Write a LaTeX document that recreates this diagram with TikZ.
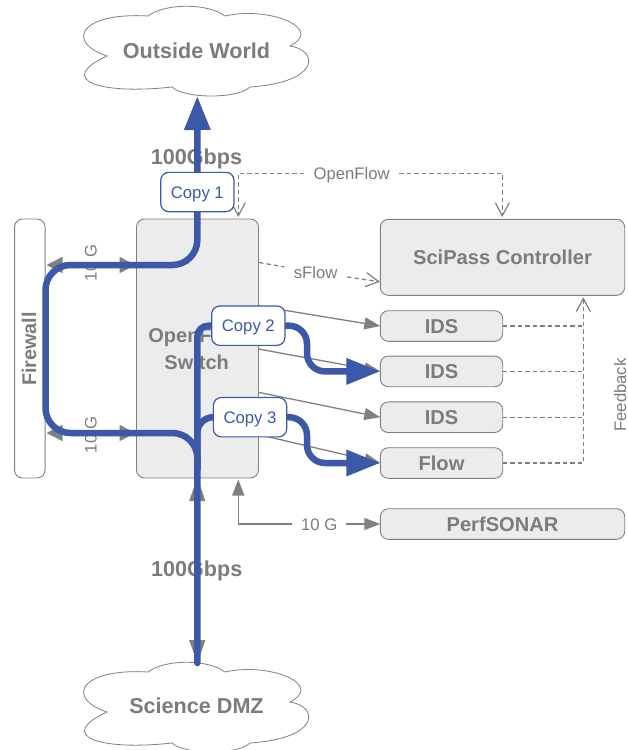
\documentclass[tikz,border=0pt]{standalone}
\usepackage{fontspec}
\setmainfont{Liberation Sans}
\usetikzlibrary{arrows.meta}
\pgfdeclarelayer{front}
\pgfsetlayers{main,front}
\definecolor{txtgray}{HTML}{7C7C7C}
\definecolor{linegray}{HTML}{808080}
\definecolor{boxfill}{HTML}{ECECEC}
\definecolor{flowblue}{HTML}{3B59A8}
\newcommand{\cloudshape}{(107,56) .. controls (65,42) and (80,12) .. (148,16)
  .. controls (165,3) and (208,3) .. (225,16)
  .. controls (268,6) and (325,28) .. (290,46)
  .. controls (318,50) and (322,82) .. (250,87)
  .. controls (238,99) and (185,99) .. (172,87)
  .. controls (100,95) and (55,80) .. (107,56) -- cycle}
\tikzset{
  x=1pt,y=-1pt,
  boxnode/.style={draw=linegray,line width=0.9pt,fill=boxfill,rounded corners=8pt,inner sep=0pt,outer sep=0pt,text=txtgray,font=\fontsize{20.1}{26.7}\selectfont\bfseries,align=center,text height=14.5pt,text depth=0pt},
  copybox/.style={draw=flowblue,line width=1.2pt,fill=white,rounded corners=8pt,inner sep=0pt,outer sep=0pt,minimum width=73.3pt,minimum height=39.3pt,text=flowblue,font=\fontsize{16.7}{20}\selectfont,text height=12pt,text depth=0pt},
  cloudline/.style={draw=linegray,line width=0.8pt,fill=white},
  bigtext/.style={text=txtgray,font=\fontsize{21.6}{26}\selectfont\bfseries,inner sep=0pt,text height=15.5pt,text depth=0pt},
  smalltext/.style={text=txtgray,font=\fontsize{16.7}{20}\selectfont,text height=12pt,text depth=0pt},
  gaplabel/.style={smalltext,inner xsep=9.5pt,inner ysep=0pt,outer sep=0pt},
  thinarrow/.style={draw=linegray,line width=1.3pt,-{Triangle[length=16pt,width=12pt]}},
  heavyhead/.style={draw=linegray,line width=1.3pt,{Triangle[length=16pt,width=16pt]}-{Triangle[length=16pt,width=16pt]}},
  feedline/.style={draw=linegray,line width=1.2pt,dash pattern=on 4.5pt off 3pt},
  feedarrow/.style={feedline,-{Straight Barb[length=13pt,width=14pt,line width=1.2pt]}},
  blueline/.style={draw=flowblue,line width=6.5pt},
}
\begin{document}
\begin{tikzpicture}
\useasboundingbox[fill=white] (0,0) rectangle (628,750);

% clouds
\path[cloudline] \cloudshape;
\begin{scope}[yshift=-656pt]
\path[cloudline] \cloudshape;
\end{scope}
\node[bigtext] (outside) at (196.5,50.5) {Outside World};
\node[bigtext] (dmz) at (196.5,705.5) {Science DMZ};

% boxes
\node[boxnode,fill=white,minimum width=30.5pt,minimum height=259pt] (fw) at (29.8,348.5) {};
\node[bigtext,font=\fontsize{19.8}{24}\selectfont\bfseries,text height=14.3pt,rotate=90] (fwt) at (29,349) {Firewall};
\node[boxnode,minimum width=122pt,minimum height=259pt] (sw) at (197.5,348.5) {};
\node[text=txtgray,font=\fontsize{20}{26.7}\selectfont\bfseries,align=center,inner sep=0pt] (swt) at (196.7,348.5) {OpenFlow\\Switch};
\node[boxnode,minimum width=244.4pt,minimum height=76pt] (ctrl) at (502.5,257.3) {SciPass Controller};
\node[boxnode,minimum width=122.4pt,minimum height=30.6pt] (ids1) at (441.5,326) {IDS};
\node[boxnode,minimum width=122.4pt,minimum height=30.6pt] (ids2) at (441.5,371.4) {IDS};
\node[boxnode,minimum width=122.4pt,minimum height=30.6pt] (ids3) at (441.5,417.2) {IDS};
\node[boxnode,minimum width=122.4pt,minimum height=30.6pt] (flow) at (441.5,463) {Flow};
\node[boxnode,minimum width=244.4pt,minimum height=30.6pt] (perf) at (502.5,524) {PerfSONAR};

% anchors for connectors
\coordinate (oftop) at (238.3,217);
\coordinate (ofctrl) at (502.3,217);
\coordinate (sf1) at (259,262.5);
\coordinate (sf2) at (380,281.8);
\coordinate (fb) at (583.3,297.3);
\coordinate (swbot) at (238.3,479.5);
\coordinate (fwu) at (46.5,265);
\coordinate (swu) at (135.5,265);
\coordinate (fwl) at (46.5,433);
\coordinate (swl) at (135.5,433);
\coordinate (vtop) at (197.3,478);
\coordinate (vbot) at (197.3,663);
\coordinate (a1) at (258.5,306);
\coordinate (a2) at (258.5,349);
\coordinate (a3) at (258.5,392.3);
\coordinate (a4) at (258.5,434.5);
\coordinate (outtip) at (197.3,96);

% dashed control connectors
\node[gaplabel] (oflabel) at (351.7,173.3) {OpenFlow};
\draw[feedarrow] (oflabel.west) -| (oftop);
\draw[feedarrow] (oflabel.east) -| (ofctrl);
\node[gaplabel] (sflabel) at (315.7,272.3) {sFlow};
\draw[feedline] (sf1) -- (sflabel);
\draw[feedarrow] (sflabel) -- (sf2);
\node[smalltext,rotate=90,inner sep=0pt] (fbl) at (620,395) {Feedback};
\draw[feedarrow] (flow.east) -| (fb);
\draw[feedline] (ids1.east) -- (ids1.east -| fb);
\draw[feedline] (ids2.east) -- (ids2.east -| fb);
\draw[feedline] (ids3.east) -- (ids3.east -| fb);

% thin gray connectors
\draw[thinarrow] (a1) -- (ids1.west);
\draw[thinarrow] (a2) -- (ids2.west);
\draw[thinarrow] (a3) -- (ids3.west);
\draw[thinarrow] (a4) -- (flow.west);
\node[gaplabel,inner xsep=9pt] (tenl) at (319.3,524) {10 G};
\draw[thinarrow] (tenl.west) -| (swbot);
\draw[thinarrow] (tenl.east) -- (perf.west);
\draw[heavyhead] (fwu) -- (swu);
\draw[heavyhead] (fwl) -- (swl);
\draw[draw=linegray,line width=1.3pt,{Triangle[length=23pt,width=16pt]}-{Triangle[length=23pt,width=16pt]}] (vtop) -- (vbot);
\node[smalltext,rotate=90,inner sep=0pt] (ten1) at (90.7,263) {10 G};
\node[smalltext,rotate=90,inner sep=0pt] (ten2) at (90.7,435) {10 G};
\node[bigtext] (rate1) at (196.5,156.5) {100Gbps};
\node[bigtext] (rate2) at (196.7,569) {100Gbps};

% copy boxes sit above the blue flows
\begin{pgfonlayer}{front}
\node[copybox] (c1) at (197.35,192) {Copy 1};
\node[copybox] (c2) at (248.35,325.7) {Copy 2};
\node[copybox] (c3) at (250,417.2) {Copy 3};
\end{pgfonlayer}

% blue flows
\draw[blueline,-{Triangle[length=34pt,width=25pt]}] (c1.north) -- (outtip);
\draw[blueline,rounded corners=25pt,line cap=round] (c1.south) -- (197.3,265) -- (45.5,265) -- (45.5,433) -- (197.3,433) -- (vbot);
\draw[blueline,rounded corners=11pt] (c2.west) -- (197.3,325.7) -- (197.3,470);
\draw[blueline,rounded corners=16pt] (c3.west) -- (197.3,417.2) -- (197.3,470);
\draw[blueline,rounded corners=18pt,-{Triangle[length=34pt,width=25pt]}] (c2.east) -- (307,325.7) -- (307,371.4) -- (ids2.west);
\draw[blueline,rounded corners=18pt,-{Triangle[length=34pt,width=25pt]}] (c3.east) -- (307,417.2) -- (307,463) -- (flow.west);
\end{tikzpicture}
\end{document}
